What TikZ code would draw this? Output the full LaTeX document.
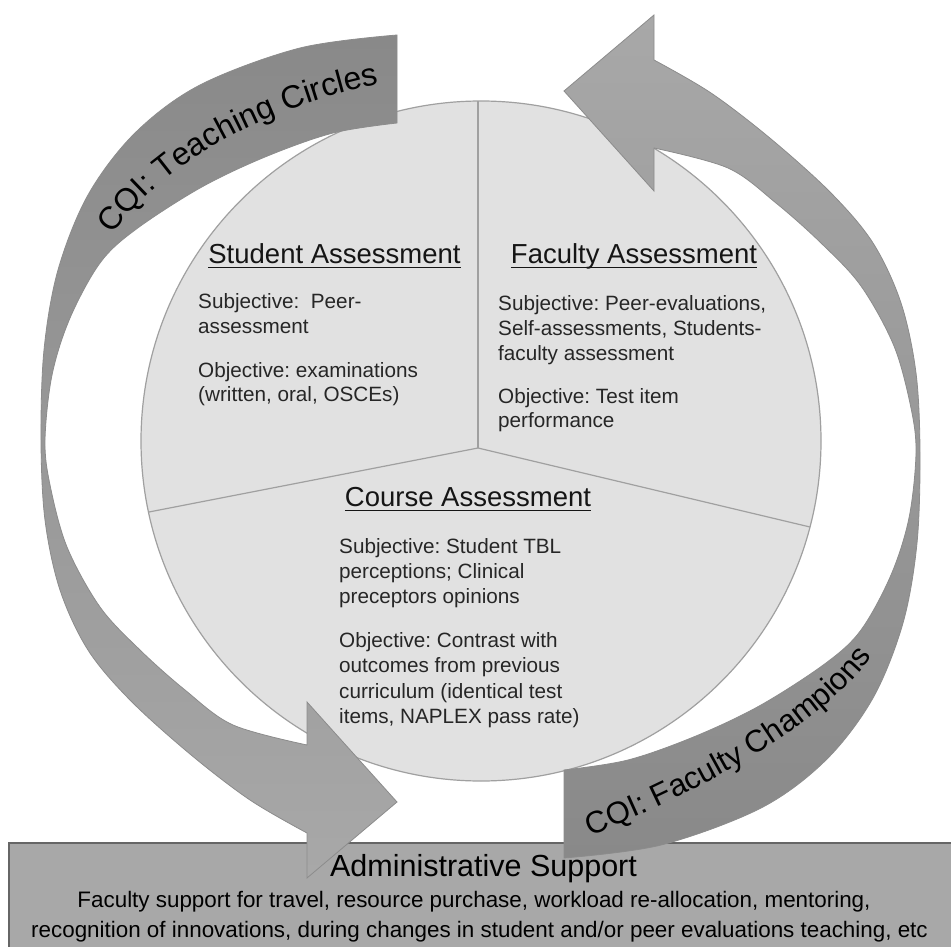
\documentclass[tikz,border=0pt]{standalone}
\usepackage{fontspec}
\setmainfont{Liberation Sans}
\usetikzlibrary{decorations.text}
\frenchspacing

\definecolor{piefill}{HTML}{E1E1E1}
\definecolor{pieline}{HTML}{A0A0A0}
\definecolor{arrowdark}{HTML}{898989}
\definecolor{arrowlight}{HTML}{A8A8A8}
\definecolor{arrowline}{HTML}{8C8C8C}
\definecolor{boxfill}{HTML}{A8A8A8}
\definecolor{boxline}{HTML}{666666}
\definecolor{bodytext}{HTML}{262626}
\definecolor{headtext}{HTML}{151515}

\def\cqiarrowpath{plot[smooth,tension=0.55] coordinates {(397,35) (300,48) (200,85) (135,133) (88,195) (58,270) (44,350) (41,440) (45,520) (60,590) (88,650) (130,700) (190,754) (250,800) (307,833)}
  -- (307,878) -- (397,802) -- (307,702) -- (307,745)
  -- plot[smooth,tension=0.55] coordinates {(307,745) (233,725) (185,690) (140,650) (100,607) (67,547) (50,485) (45,440) (52,375) (70,318) (100,263) (135,230) (200,188) (265,157) (333,133) (397,123)} -- cycle}

\tikzset{
  heading/.style={anchor=base, inner sep=0pt, font=\fontsize{27.5}{33}\selectfont, text=headtext},
  headrule/.style={draw=headtext, line width=1.5pt},
  bodyline/.style={anchor=base west, inner sep=0pt, font=\fontsize{20.7}{25}\selectfont, text=bodytext},
  boxtitle/.style={anchor=base, inner sep=0pt, font=\fontsize{30.5}{36}\selectfont, text=black},
  boxline/.style={anchor=base, inner sep=0pt, font=\fontsize{22.4}{27}\selectfont, text=black},
  arrowshape/.style={draw=arrowline, line width=0.8pt},
  divider/.style={draw=pieline, line width=1.2pt}
}

\begin{document}
\begin{tikzpicture}[x=1pt, y=-1pt]
\useasboundingbox (0,0) rectangle (951,947);
\fill[white] (0,0) rectangle (951,947);

% pie circle
\draw[fill=piefill, draw=pieline, line width=1.2pt] (481,441) circle[radius=340];
\coordinate (pc) at (478,448);
\coordinate (ptop) at (478,101);
\coordinate (pleft) at (149,512);
\coordinate (pright) at (810,527);
\draw[divider] (pc) -- (ptop);
\draw[divider] (pc) -- (pleft);
\draw[divider] (pc) -- (pright);

% Student assessment
\node[heading] (hs) at (334.5,263) {Student Assessment};
\draw[headrule] ([yshift=-4.5pt]hs.base west) -- ([yshift=-4.5pt]hs.base east);
\node[bodyline] (s1) at (198,308) {Subjective:\ \ Peer-};
\node[bodyline] (s2) at (198,333) {assessment};
\node[bodyline] (s3) at (198,377) {Objective: examinations};
\node[bodyline] (s4) at (198,401) {(written, oral, OSCEs)};

% Faculty assessment
\node[heading] (hf) at (634,263) {Faculty Assessment};
\draw[headrule] ([yshift=-4.5pt]hf.base west) -- ([yshift=-4.5pt]hf.base east);
\node[bodyline] (f1) at (498,310) {Subjective: Peer-evaluations,};
\node[bodyline] (f2) at (498,335) {Self-assessments, Students-};
\node[bodyline] (f3) at (498,360) {faculty assessment};
\node[bodyline] (f4) at (498,403) {Objective: Test item};
\node[bodyline] (f5) at (498,427) {performance};

% Course assessment
\node[heading] (hc) at (468,506) {Course Assessment};
\draw[headrule] ([yshift=-4.5pt]hc.base west) -- ([yshift=-4.5pt]hc.base east);
\node[bodyline] (c1) at (339,553) {Subjective: Student TBL};
\node[bodyline] (c2) at (339,578) {perceptions; Clinical};
\node[bodyline] (c3) at (339,603) {preceptors opinions};
\node[bodyline] (c4) at (339,647) {Objective: Contrast with};
\node[bodyline] (c5) at (339,672) {outcomes from previous};
\node[bodyline] (c6) at (339,698) {curriculum (identical test};
\node[bodyline] (c7) at (339,723) {items, NAPLEX pass rate)};

% administrative box
\draw[fill=boxfill, draw=boxline, line width=1.2pt] (9,843) rectangle (975,975);

% arrows
\path[arrowshape, top color=arrowdark, bottom color=arrowlight] \cqiarrowpath;
\begin{scope}[rotate around={180:(480.5,446.5)}]
\path[arrowshape, top color=arrowlight, bottom color=arrowdark] \cqiarrowpath;
\end{scope}

% arrow labels
\path[decorate, decoration={text along path, text align=center,
  text={|\fontsize{32}{38}\selectfont|CQI: Teaching Circles}}]
  (113,235) .. controls (170,153) and (281,104) .. (379,84);
\path[decorate, decoration={text along path, text align=center,
  text={|\fontsize{31}{37}\selectfont|CQI: Faculty Champions}}]
  (586,838) .. controls (679,800) and (818,734) .. (875,652);

% box text
\node[boxtitle] (bt) at (483.5,876) {Administrative Support};
\node[boxline] (b1) at (474,907) {Faculty support for travel, resource purchase, workload re-allocation, mentoring,};
\node[boxline] (b2) at (479.5,937) {recognition of innovations, during changes in student and/or peer evaluations teaching, etc};
\end{tikzpicture}
\end{document}
